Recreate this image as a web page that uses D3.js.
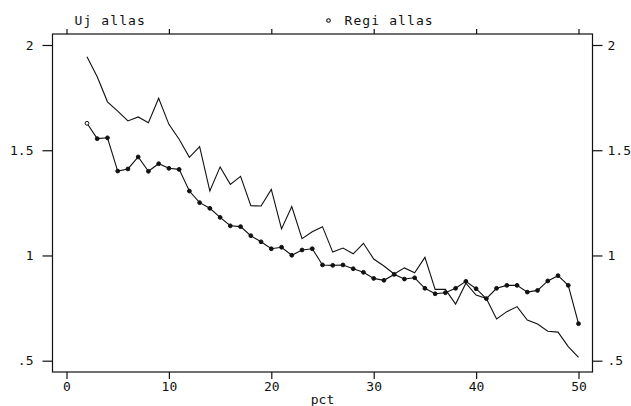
<!DOCTYPE html>
<html>
<head>
<meta charset="utf-8">
<script src="https://cdn.jsdelivr.net/npm/d3@7"></script>
<style>
  html, body { margin: 0; padding: 0; background: #fff; }
  svg { display: block; }
  text { font-family: "DejaVu Sans Mono", "Liberation Mono", monospace; fill: #111; }
</style>
</head>
<body>
<svg id="chart" width="631" height="406"></svg>
<script>
// Share of each pct value (2..50)
const pct = [2,3,4,5,6,7,8,9,10,11,12,13,14,15,16,17,18,19,20,21,22,23,24,25,26,
             27,28,29,30,31,32,33,34,35,36,37,38,39,40,41,42,43,44,45,46,47,48,49,50];

// "Uj allas" series
const ujAllas = [1.944,1.849,1.730,1.686,1.639,1.658,1.631,1.747,1.623,1.552,1.466,1.517,
                 1.306,1.421,1.338,1.376,1.236,1.235,1.314,1.126,1.232,1.080,1.113,1.137,
                 1.016,1.035,1.008,1.058,0.983,0.950,0.912,0.941,0.918,0.991,0.839,0.839,
                 0.769,0.868,0.812,0.796,0.698,0.733,0.757,0.693,0.674,0.640,0.636,0.567,0.516];

// "Regi allas" series
const regiAllas = [1.628,1.555,1.559,1.401,1.411,1.468,1.400,1.436,1.414,1.409,1.306,1.251,
                   1.224,1.181,1.141,1.137,1.094,1.065,1.032,1.039,1.001,1.026,1.032,0.955,
                   0.953,0.955,0.937,0.920,0.891,0.882,0.910,0.888,0.894,0.844,0.818,0.823,
                   0.844,0.877,0.842,0.795,0.844,0.858,0.858,0.826,0.834,0.879,0.904,0.858,0.676];

const xTicks = [0,10,20,30,40,50];
const yTicks = [0.5,1,1.5,2];
const yTickLabels = [".5","1","1.5","2"];
const seriesNames = ["Uj allas","Regi allas"];
const xTitle = "pct";

const svg = d3.select("#chart");

// plot frame
const box = { left: 52.5, right: 592.5, top: 34, bottom: 372 };

const x = d3.scaleLinear().domain([0, 50]).range([66.5, 578.5]);
const y = d3.scaleLinear().domain([0.5, 2]).range([360.7, 45]);

const ink = "#111";

// frame
svg.append("rect")
  .attr("x", box.left).attr("y", box.top)
  .attr("width", box.right - box.left).attr("height", box.bottom - box.top)
  .attr("fill", "none").attr("stroke", ink).attr("stroke-width", 1.2);

// bottom axis
const bottomAxis = d3.axisBottom(x).tickValues(xTicks).tickSize(7).tickPadding(3)
  .tickFormat(d3.format("d"));
const gb = svg.append("g").attr("transform", `translate(0,${box.bottom})`).call(bottomAxis);

// top axis (ticks only)
const topAxis = d3.axisTop(x).tickValues(xTicks).tickSize(5).tickFormat("");
const gt = svg.append("g").attr("transform", `translate(0,${box.top})`).call(topAxis);

// left axis
const leftAxis = d3.axisLeft(y).tickValues(yTicks).tickSize(10).tickPadding(9)
  .tickFormat((d, i) => yTickLabels[i]);
const gl = svg.append("g").attr("transform", `translate(${box.left},0)`).call(leftAxis);

// right axis
const rightAxis = d3.axisRight(y).tickValues(yTicks).tickSize(10).tickPadding(5)
  .tickFormat((d, i) => yTickLabels[i]);
const gr = svg.append("g").attr("transform", `translate(${box.right},0)`).call(rightAxis);

[gb, gt, gl, gr].forEach(g => {
  g.select(".domain").remove();
  g.selectAll(".tick line").attr("stroke", ink).attr("stroke-width", 1.2);
  g.selectAll(".tick text").attr("font-size", 13).attr("fill", ink)
    .attr("font-family", "DejaVu Sans Mono, monospace");
});

// x title
svg.append("text")
  .attr("x", x(25)).attr("y", 404)
  .attr("text-anchor", "middle").attr("font-size", 13)
  .text(xTitle);

// lines
const line = d3.line().x(d => x(d[0])).y(d => y(d[1]));
const ujData = pct.map((p, i) => [p, ujAllas[i]]);
const regiData = pct.map((p, i) => [p, regiAllas[i]]);

svg.append("path").datum(ujData).attr("d", line)
  .attr("fill", "none").attr("stroke", ink).attr("stroke-width", 1.1);

svg.append("path").datum(regiData).attr("d", line)
  .attr("fill", "none").attr("stroke", ink).attr("stroke-width", 1.1);

// markers: the first one stays open, the rest read as solid dots
svg.append("g").selectAll("circle").data(regiData).join("circle")
  .attr("cx", d => x(d[0])).attr("cy", d => y(d[1])).attr("r", 1.9)
  .attr("fill", (d, i) => i === 0 ? "#fff" : ink)
  .attr("stroke", ink).attr("stroke-width", 1);

// legend
svg.append("text")
  .attr("x", 74.5).attr("y", 24.5)
  .attr("font-size", 13).attr("letter-spacing", 1.1)
  .text(seriesNames[0]);

svg.append("circle")
  .attr("cx", 328.5).attr("cy", 20.5).attr("r", 1.8)
  .attr("fill", "none").attr("stroke", ink).attr("stroke-width", 1.1);

svg.append("text")
  .attr("x", 344.5).attr("y", 24.5)
  .attr("font-size", 13).attr("letter-spacing", 1.1)
  .text(seriesNames[1]);
</script>
</body>
</html>
